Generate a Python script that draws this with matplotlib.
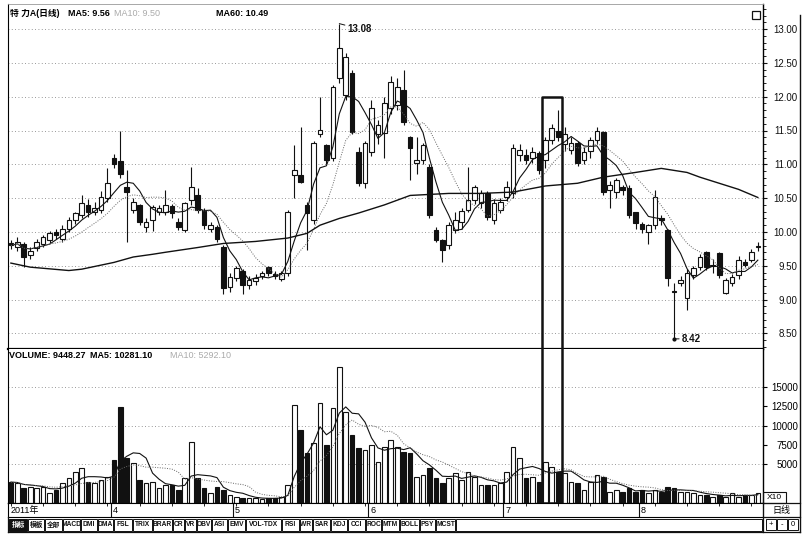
import numpy as np
import pandas as pd
import matplotlib
matplotlib.use("Agg")
import matplotlib.pyplot as plt
from matplotlib.lines import Line2D
from matplotlib.patches import Rectangle

plt.rcParams['font.family'] = ['Liberation Sans Narrow', 'Liberation Sans', 'Noto Sans CJK SC']
plt.rcParams['font.size'] = 7
plt.rcParams['axes.unicode_minus'] = False

W, H = 805, 537

# ---- daily bars, Mar..Aug 2011 ----
opens = [9.84, 9.78, 9.82, 9.66, 9.76, 9.82, 9.88, 10.00, 9.90, 10.05,
         10.17, 10.25, 10.40, 10.30, 10.32, 10.50, 11.10, 11.05, 10.66, 10.32,
         10.40, 10.07, 10.17, 10.30, 10.30, 10.38, 10.15, 10.03, 10.47, 10.55,
         10.32, 10.05, 10.07, 9.78, 9.18, 9.32, 9.43, 9.21, 9.27, 9.35,
         9.48, 9.38, 9.30, 9.39, 10.84, 10.84, 10.40, 10.17, 11.45, 11.28,
         11.09, 12.27, 12.02, 12.35, 11.18, 10.72, 11.18, 11.45, 11.46, 11.83,
         11.88, 12.10, 11.40, 11.02, 11.06, 10.96, 10.03, 9.88, 9.80, 10.03,
         10.15, 10.32, 10.47, 10.43, 10.57, 10.18, 10.32, 10.51, 10.57, 11.14,
         11.14, 11.09, 11.17, 11.06, 11.36, 11.50, 11.30, 11.21, 11.31, 11.06,
         11.20, 11.36, 11.48, 10.62, 10.59, 10.66, 10.65, 10.29, 10.12, 10.00,
         10.10, 10.20, 10.03, 9.12, 9.24, 9.02, 9.36, 9.48, 9.70, 9.50,
         9.69, 9.10, 9.24, 9.36, 9.55, 9.58, 9.78]
highs = [9.88, 9.92, 9.85, 9.78, 9.90, 9.95, 10.02, 10.05, 10.10, 10.22,
         10.30, 10.55, 10.48, 10.45, 10.60, 10.95, 11.15, 11.50, 10.91, 10.50,
         10.42, 10.20, 10.40, 10.40, 10.62, 10.42, 10.20, 10.45, 10.96, 10.65,
         10.35, 10.15, 10.10, 9.80, 9.40, 9.50, 9.45, 9.35, 9.38, 9.42,
         9.50, 9.42, 9.42, 10.32, 11.28, 11.55, 10.45, 11.35, 11.99, 11.30,
         12.18, 13.08, 12.65, 12.40, 11.25, 11.35, 11.95, 11.65, 12.00, 12.30,
         12.28, 12.40, 11.42, 11.40, 11.32, 11.00, 10.08, 9.90, 10.15, 10.30,
         10.35, 10.96, 10.70, 10.62, 10.60, 10.48, 10.50, 10.75, 11.30, 11.30,
         11.22, 11.25, 11.20, 11.40, 11.60, 11.80, 11.55, 11.40, 11.35, 11.25,
         11.40, 11.55, 11.50, 10.75, 10.80, 10.70, 10.70, 10.30, 10.15, 10.12,
         10.62, 10.25, 10.05, 9.25, 9.35, 9.45, 9.50, 9.68, 9.72, 9.60,
         9.70, 9.32, 9.38, 9.65, 9.60, 9.75, 9.85]
lows = [9.75, 9.72, 9.48, 9.60, 9.72, 9.78, 9.84, 9.90, 9.85, 10.00,
        10.12, 10.20, 10.22, 10.25, 10.28, 10.45, 10.95, 10.80, 9.85, 10.28,
        10.10, 10.00, 10.02, 10.25, 10.25, 10.20, 10.03, 10.00, 10.40, 10.28,
        10.05, 10.00, 9.85, 9.09, 9.12, 9.28, 9.09, 9.15, 9.22, 9.30,
        9.35, 9.30, 9.28, 9.35, 10.50, 10.72, 9.73, 10.12, 11.40, 11.00,
        11.05, 12.20, 11.95, 11.45, 10.68, 10.65, 11.12, 11.30, 11.10, 11.75,
        11.80, 11.58, 10.77, 10.85, 11.00, 10.20, 9.85, 9.55, 9.75, 9.98,
        10.05, 10.30, 10.42, 10.35, 10.18, 10.12, 10.28, 10.46, 10.50, 11.05,
        11.00, 11.02, 10.85, 10.95, 11.30, 11.35, 11.20, 11.15, 10.98, 11.00,
        11.10, 11.30, 10.55, 10.35, 10.50, 10.55, 10.20, 10.05, 9.98, 9.82,
        10.05, 10.10, 9.20, 8.42, 9.20, 8.85, 9.30, 9.44, 9.44, 9.40,
        9.32, 9.08, 9.20, 9.30, 9.48, 9.55, 9.72]
closes = [9.80, 9.85, 9.63, 9.72, 9.85, 9.92, 9.98, 9.95, 10.05, 10.17,
          10.28, 10.43, 10.30, 10.36, 10.52, 10.72, 11.00, 10.85, 10.59, 10.44,
          10.15, 10.15, 10.37, 10.35, 10.40, 10.28, 10.07, 10.43, 10.66, 10.32,
          10.10, 10.10, 9.90, 9.17, 9.33, 9.46, 9.21, 9.29, 9.32, 9.40,
          9.39, 9.35, 9.39, 10.29, 10.91, 10.74, 10.28, 11.31, 11.50, 11.06,
          12.14, 12.72, 12.59, 11.48, 10.72, 11.31, 11.83, 11.58, 11.90, 12.22,
          12.15, 11.62, 11.24, 11.06, 11.28, 10.25, 9.88, 9.73, 10.10, 10.17,
          10.31, 10.47, 10.66, 10.57, 10.22, 10.43, 10.45, 10.66, 11.24, 11.21,
          11.06, 11.18, 10.91, 11.36, 11.54, 11.40, 11.45, 11.31, 11.02, 11.18,
          11.36, 11.50, 10.59, 10.70, 10.77, 10.62, 10.25, 10.13, 10.05, 10.10,
          10.52, 10.17, 9.32, 9.11, 9.29, 9.40, 9.46, 9.63, 9.48, 9.51,
          9.36, 9.29, 9.33, 9.59, 9.51, 9.70, 9.79]
volumes = [2700, 2600, 1900, 2100, 1900, 2100, 1300, 1700, 2600, 3200,
           4000, 4500, 2700, 2600, 3000, 3400, 5600, 12400, 5800, 5200,
           3000, 2600, 2700, 1900, 2300, 2300, 1700, 3200, 7900, 3200,
           1900, 1300, 2100, 1700, 1000, 800, 700, 600, 600, 500,
           600, 700, 800, 2300, 12700, 9400, 6500, 7800, 12900, 7500,
           12300, 17600, 11800, 8800, 7100, 6900, 7500, 5300, 7300, 8100,
           7200, 6600, 6500, 3400, 3600, 4500, 3200, 2600, 3200, 3900,
           3000, 4000, 3400, 2300, 2300, 2300, 2600, 4000, 7200, 5800,
           3200, 3400, 2700, 5300, 4700, 4000, 3900, 2700, 2600, 1700,
           2700, 3600, 3400, 1400, 1700, 1400, 1900, 1400, 1700, 1300,
           1700, 1400, 2100, 1900, 1400, 1400, 1300, 1000, 1000, 800,
           1000, 800, 1300, 800, 1000, 1000, 1300]

# MA60 as drawn on the chart (bar index, value)
ma60_idx = [0, 3, 9, 11, 14, 16, 19, 22, 24, 29, 33, 38, 43, 46, 48, 51,
            54, 58, 62, 68, 73, 78, 83, 88, 92, 97, 101, 105, 107, 110, 113, 116]
ma60_val = [9.54, 9.48, 9.43, 9.45, 9.51, 9.55, 9.63, 9.67, 9.70, 9.77, 9.83,
            9.86, 9.91, 9.98, 10.10, 10.20, 10.28, 10.40, 10.54, 10.57, 10.57,
            10.59, 10.68, 10.72, 10.81, 10.88, 10.94, 10.88, 10.81, 10.72, 10.63, 10.51]

month_labels = ['4', '5', '6', '7', '8']
month_start = [16, 35, 56, 77, 98]
price_ticks = [8.5, 9.0, 9.5, 10.0, 10.5, 11.0, 11.5, 12.0, 12.5, 13.0]
vol_ticks = [5000, 7500, 10000, 12500, 15000]
buttons = ['指标', '模板', '全部', 'MACD', 'DMI', 'DMA', 'FSL', 'TRIX', 'BRAR', 'CR',
           'VR', 'OBV', 'ASI', 'EMV', 'VOL-TDX', 'RSI', 'WR', 'SAR', 'KDJ', 'CCI',
           'ROC', 'MTM', 'BOLL', 'PSY', 'MCST']
btn_edges = [9, 28, 45, 63, 81, 98, 114, 133, 153, 173, 185, 197, 212, 228, 246,
             282, 300, 313, 331, 348, 366, 382, 400, 420, 436, 456]

ink = '#111111'


def fbox(x0, y0, x1, y1):
    return [x0 / W, 1 - y1 / H, (x1 - x0) / W, (y1 - y0) / H]


def fx(px):
    return px / W


def fy(py):
    return 1 - py / H


fig = plt.figure(figsize=(W / 100, H / 100), dpi=100)
ax = fig.add_axes(fbox(8, 4, 763, 349))
axv = fig.add_axes(fbox(8, 349, 763, 503))
axd = fig.add_axes(fbox(8, 503, 763, 517))

n = len(closes)
x = np.arange(n)
o = np.array(opens)
c = np.array(closes)
up = c >= o
face = ['white' if u else ink for u in up]
xlim = (-0.45, 116.8)
ylim = (8.27, 13.37)
vlim = (0, 19900)

# ---- price panel ----
for v in price_ticks:
    ax.axhline(v, color='#777777', lw=0.6, ls=(0, (1, 3)), zorder=1)
ax.vlines(x, lows, highs, color=ink, lw=0.8, zorder=2)
ax.bar(x, np.maximum(np.abs(c - o), 0.012), bottom=np.minimum(o, c), width=0.72,
       color=face, edgecolor=ink, linewidth=0.8, zorder=3)
ma5 = pd.Series(closes).rolling(5, min_periods=1).mean()
ma10 = pd.Series(closes).rolling(10, min_periods=1).mean()
ax.plot(x, ma5, color=ink, lw=0.8, zorder=4)
ax.plot(x, ma10, color='#666666', lw=0.7, ls=(0, (1, 1.5)), zorder=4)
ax.plot(ma60_idx, ma60_val, color=ink, lw=1.0, zorder=4)

hi = int(np.argmax(highs))
lo = int(np.argmin(lows))
ax.annotate('%.2f' % highs[hi], xy=(hi, highs[hi]), xytext=(hi + 1.3, highs[hi] - 0.08),
            va='center', ha='left', fontsize=7, fontweight='bold', color=ink,
            arrowprops=dict(arrowstyle='-', color=ink, lw=0.7, shrinkA=0, shrinkB=0))
ax.plot(lo, lows[lo], marker='o', ms=2, color=ink, zorder=5)
ax.annotate('%.2f' % lows[lo], xy=(lo, lows[lo]), xytext=(lo + 1.2, lows[lo]),
            va='center', ha='left', fontsize=7, fontweight='bold', color=ink,
            arrowprops=dict(arrowstyle='-', color=ink, lw=0.7, shrinkA=0, shrinkB=0))

ax.set_xlim(*xlim)
ax.set_ylim(*ylim)
ax.yaxis.tick_right()
ax.set_yticks(price_ticks)
ax.set_yticklabels(['%.2f' % v for v in price_ticks])
ax.set_yticks(np.arange(8.3, 13.35, 0.1), minor=True)
ax.tick_params(axis='y', which='major', direction='out', length=3, width=0.8, pad=22,
               labelsize=7, colors=ink)
ax.tick_params(axis='y', which='minor', direction='out', length=1.8, width=0.6)
for t in ax.get_yticklabels():
    t.set_ha('right')
ax.tick_params(axis='x', bottom=False, labelbottom=False)
ax.spines['top'].set_color('#999999')
ax.spines['top'].set_linewidth(0.6)
ax.spines['left'].set_linewidth(0.8)
ax.spines['right'].set_linewidth(1.0)
ax.spines['bottom'].set_linewidth(1.6)

# ---- volume panel ----
for v in [5000, 10000, 15000]:
    axv.axhline(v, color='#777777', lw=0.6, ls=(0, (1, 3)), zorder=1)
axv.bar(x, volumes, width=0.72, color=face, edgecolor=ink, linewidth=0.8, zorder=3)
vma5 = pd.Series(volumes).rolling(5, min_periods=1).mean()
vma10 = pd.Series(volumes).rolling(10, min_periods=1).mean()
axv.plot(x, vma5, color=ink, lw=0.8, zorder=4)
axv.plot(x, vma10, color='#666666', lw=0.7, ls=(0, (1, 1.5)), zorder=4)
axv.set_xlim(*xlim)
axv.set_ylim(*vlim)
axv.yaxis.tick_right()
axv.set_yticks(vol_ticks)
axv.set_yticklabels([str(v) for v in vol_ticks])
axv.tick_params(axis='y', direction='out', length=3, width=0.8, pad=22, labelsize=7)
for t in axv.get_yticklabels():
    t.set_ha('right')
axv.tick_params(axis='x', bottom=False, labelbottom=False)
axv.spines['top'].set_visible(False)
axv.spines['left'].set_linewidth(0.8)
axv.spines['right'].set_linewidth(1.0)
axv.spines['bottom'].set_linewidth(1.0)

# highlighted box over both panels
bl, br = 82.5, 85.6
ax.plot([bl, bl, br, br], [ylim[0], 12.0, 12.0, ylim[0]], color=ink, lw=1.8,
        clip_on=False, zorder=6)
axv.plot([bl, bl, br, br], [vlim[1], 0, 0, vlim[1]], color=ink, lw=1.8,
         clip_on=False, zorder=6)

# ---- date strip ----
axd.set_xlim(*xlim)
axd.set_ylim(0, 1)
axd.set_yticks([])
axd.xaxis.tick_top()
axd.set_xticks(np.arange(0, n, 5))
axd.tick_params(axis='x', direction='in', length=2, width=0.6, labeltop=False,
                labelbottom=False)
axd.text(xlim[0] + 0.4, 0.45, '2011年', va='center', ha='left', fontsize=6.5)
for m, lab in zip(month_start, month_labels):
    axd.axvline(m - 0.5, color=ink, lw=0.8)
    axd.text(m - 0.2, 0.45, lab, va='center', ha='left', fontsize=6.5)
for s in axd.spines.values():
    s.set_linewidth(0.8)

# ---- headers ----
fig.text(fx(10), fy(14), '特 力A(日线)', fontsize=6.3, fontweight='bold', va='center')
fig.text(fx(68), fy(14), 'MA5: 9.56', fontsize=6.5, fontweight='bold', va='center')
fig.text(fx(114), fy(14), 'MA10: 9.50', fontsize=6.5, color='#aaaaaa', va='center')
fig.text(fx(216), fy(14), 'MA60: 10.49', fontsize=6.5, fontweight='bold', va='center')
fig.text(fx(9), fy(356), 'VOLUME: 9448.27', fontsize=6.5, fontweight='bold', va='center')
fig.text(fx(90), fy(356), 'MA5: 10281.10', fontsize=6.5, fontweight='bold', va='center')
fig.text(fx(170), fy(356), 'MA10: 5292.10', fontsize=6.5, color='#aaaaaa', va='center')

# small icon top right
fig.patches.append(Rectangle((fx(752), fy(19)), 8 / W, 8 / H, transform=fig.transFigure,
                             fill=False, edgecolor=ink, lw=0.9))

# ---- frame on the right / bottom ----
def fline(xs, ys, lw=0.9):
    fig.add_artist(Line2D([fx(v) for v in xs], [fy(v) for v in ys], color=ink, lw=lw))


fline([800, 800], [15, 532], 1.0)
fline([763, 800], [503, 503])
fline([763, 800], [517, 517])
fline([763, 763], [503, 532])
fline([8, 8], [517, 532])
fline([8, 800], [532, 532])
# X10 box
fig.patches.append(Rectangle((fx(763), fy(503)), 23 / W, 11 / H, transform=fig.transFigure,
                             fill=False, edgecolor=ink, lw=0.8))
fig.text(fx(774), fy(497.5), 'X10', fontsize=6, ha='center', va='center')
fig.text(fx(781), fy(510), '日线', fontsize=6.5, ha='center', va='center')

# ---- button bar ----
for i, lab in enumerate(buttons):
    x0, x1 = btn_edges[i], btn_edges[i + 1] - 1
    dark = i == 0
    fig.patches.append(Rectangle((fx(x0), fy(531)), (x1 - x0) / W, 12 / H,
                                 transform=fig.transFigure,
                                 facecolor=ink if dark else 'white', edgecolor=ink, lw=0.7))
    fig.text(fx((x0 + x1) / 2), fy(525), lab, fontsize=4.8, fontweight='bold',
             ha='center', va='center', color='white' if dark else ink)
fig.patches.append(Rectangle((fx(btn_edges[-1]), fy(531)), (762 - btn_edges[-1]) / W, 12 / H,
                             transform=fig.transFigure, fill=False, edgecolor=ink, lw=0.7))
for k, s in enumerate(['+', '-', '0']):
    x0 = 766 + 11 * k
    fig.patches.append(Rectangle((fx(x0), fy(530)), 10 / W, 11 / H, transform=fig.transFigure,
                                 fill=False, edgecolor=ink, lw=0.7))
    fig.text(fx(x0 + 5), fy(524.5), s, fontsize=5.5, ha='center', va='center')

fig.savefig('out.png', dpi=100)
